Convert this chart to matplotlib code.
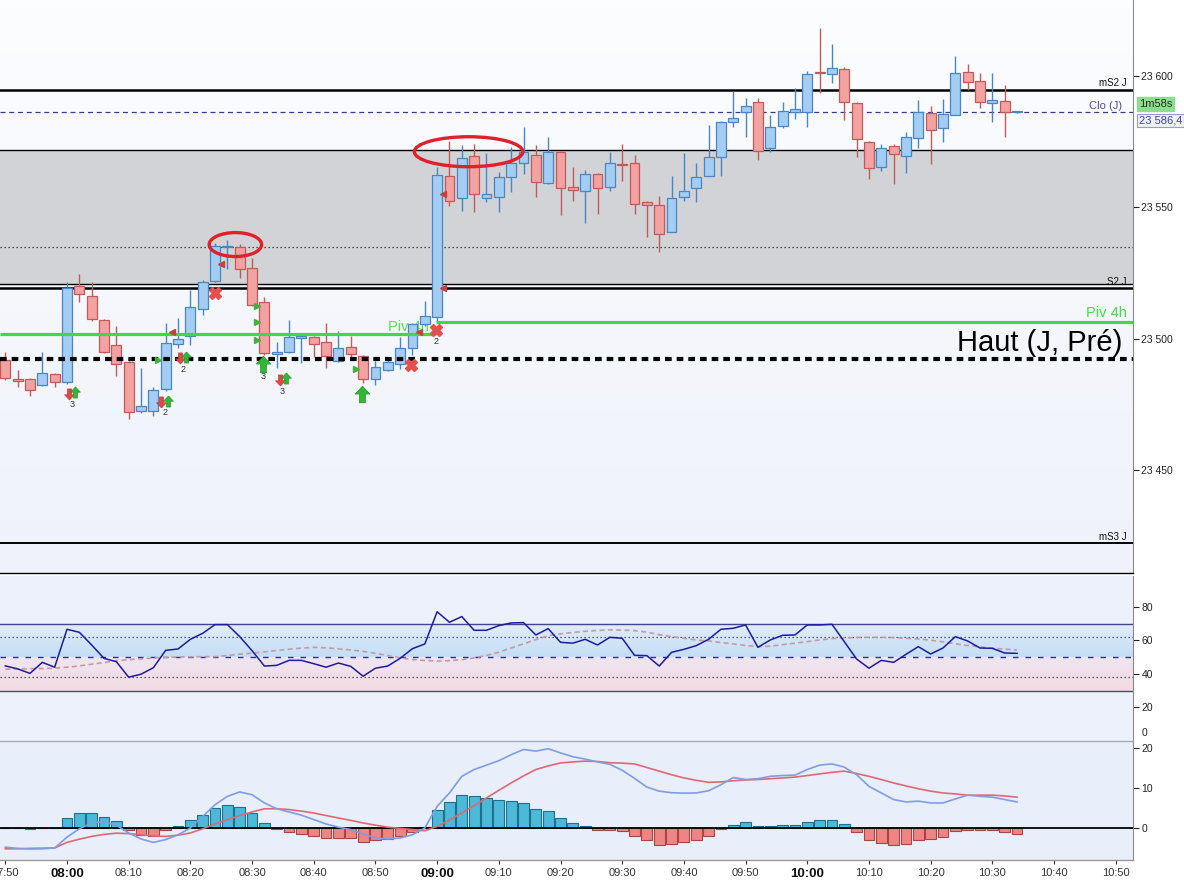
import numpy as np
import matplotlib
matplotlib.use('Agg')
import matplotlib.pyplot as plt
from matplotlib.patches import Ellipse
from matplotlib.path import Path
import matplotlib.transforms as mtrans
from matplotlib.colors import LinearSegmentedColormap

plt.rcParams['font.family'] = ['Liberation Sans', 'DejaVu Sans']

# ---------------- data ----------------
start_minute = 470          # 07:50
bar_minutes = 2

opens = [23492.0, 23484.8, 23484.7, 23482.4, 23486.6, 23483.5, 23520.2, 23516.3, 23507.2, 23497.6,
         23491.1, 23472.5, 23472.7, 23480.9, 23498.1, 23501.1, 23511.3, 23522.2, 23535.0, 23535.1,
         23526.9, 23514.2, 23494.3, 23495.2, 23500.5, 23500.6, 23498.7, 23491.6, 23496.9, 23493.7,
         23484.8, 23488.2, 23490.4, 23496.5, 23505.6, 23508.5, 23562.0, 23553.5, 23569.6, 23553.5,
         23553.9, 23561.5, 23566.8, 23570.0, 23559.2, 23571.2, 23557.9, 23556.4, 23562.6, 23557.7,
         23566.6, 23566.8, 23552.0, 23550.8, 23540.6, 23553.9, 23557.3, 23562.1, 23569.3, 23582.4,
         23586.2, 23590.0, 23572.5, 23580.9, 23586.3, 23586.4, 23601.4, 23600.8, 23602.5, 23589.6,
         23575.0, 23565.3, 23573.4, 23569.6, 23576.5, 23585.8, 23580.1, 23585.2, 23601.4, 23598.0,
         23589.6, 23590.5, 23586.2]
highs = [23495.2, 23488.2, 23485.0, 23495.2, 23487.0, 23521.6, 23524.7, 23521.8, 23507.5, 23504.9,
         23491.5, 23488.9, 23481.6, 23506.2, 23507.9, 23518.6, 23522.5, 23536.4, 23537.6, 23536.0,
         23530.9, 23516.1, 23499.0, 23507.2, 23501.5, 23501.0, 23506.0, 23503.0, 23501.1, 23494.0,
         23491.6, 23493.3, 23500.9, 23506.0, 23514.4, 23565.5, 23575.4, 23573.8, 23574.1, 23570.6,
         23563.6, 23573.1, 23580.7, 23573.8, 23576.7, 23571.5, 23565.5, 23564.3, 23563.0, 23571.0,
         23574.0, 23570.0, 23552.6, 23554.4, 23562.0, 23570.6, 23567.0, 23581.4, 23583.0, 23594.4,
         23591.7, 23591.5, 23585.2, 23590.2, 23595.3, 23602.0, 23618.1, 23612.2, 23603.5, 23590.0,
         23575.3, 23574.1, 23574.1, 23578.8, 23590.9, 23588.6, 23591.3, 23607.6, 23604.6, 23601.0,
         23601.0, 23596.6, 23586.6]
lows = [23484.5, 23481.6, 23478.4, 23482.0, 23481.9, 23483.0, 23514.2, 23507.0, 23494.8, 23486.0,
        23469.6, 23472.0, 23470.8, 23480.3, 23496.5, 23497.7, 23509.1, 23521.6, 23526.5, 23523.3,
        23512.5, 23494.0, 23488.9, 23494.8, 23491.0, 23493.3, 23488.9, 23491.2, 23493.0, 23483.2,
        23482.5, 23488.0, 23488.5, 23493.9, 23505.0, 23506.6, 23550.6, 23548.8, 23548.4, 23552.2,
        23548.4, 23556.0, 23562.7, 23553.9, 23558.8, 23547.1, 23552.5, 23544.2, 23547.5, 23556.4,
        23560.2, 23547.4, 23538.7, 23533.2, 23540.5, 23552.6, 23552.2, 23562.0, 23562.1, 23580.5,
        23576.9, 23568.1, 23571.0, 23580.1, 23583.7, 23580.5, 23593.7, 23597.2, 23583.3, 23569.3,
        23560.7, 23564.0, 23558.8, 23563.0, 23572.7, 23566.4, 23575.0, 23585.0, 23594.7, 23588.0,
        23582.4, 23576.9, 23586.0]
closes = [23485.1, 23484.0, 23480.6, 23486.9, 23483.5, 23519.3, 23517.1, 23507.5, 23495.1, 23490.4,
          23472.1, 23474.5, 23480.5, 23498.4, 23500.1, 23512.0, 23521.8, 23535.4, 23535.5, 23526.5,
          23512.9, 23494.6, 23495.2, 23500.6, 23501.0, 23498.0, 23493.5, 23496.5, 23494.2, 23484.7,
          23489.5, 23491.1, 23496.7, 23505.6, 23508.7, 23562.4, 23552.4, 23568.7, 23555.0, 23555.1,
          23561.5, 23566.8, 23571.0, 23559.8, 23571.0, 23557.3, 23556.7, 23562.7, 23557.3, 23566.8,
          23566.2, 23551.2, 23550.8, 23539.9, 23553.5, 23556.4, 23561.7, 23569.1, 23582.4, 23583.9,
          23588.5, 23571.5, 23580.5, 23586.6, 23587.5, 23600.8, 23601.0, 23602.9, 23590.0, 23575.9,
          23564.9, 23572.7, 23570.3, 23576.7, 23586.4, 23579.5, 23585.4, 23601.0, 23597.6, 23590.0,
          23590.8, 23586.2, 23586.4]

rsi = [44.8, 43.0, 40.3, 46.9, 44.0, 66.7, 64.9, 57.3, 49.3, 47.3,
       38.0, 39.8, 43.7, 54.1, 54.9, 60.7, 64.3, 69.5, 69.5, 62.3,
       53.9, 44.7, 45.1, 48.1, 48.1, 46.1, 44.0, 46.5, 44.5, 38.6,
       43.4, 44.7, 49.3, 55.1, 57.9, 77.2, 70.9, 74.3, 66.1, 66.1,
       68.9, 70.5, 70.7, 63.3, 67.1, 58.9, 58.4, 60.7, 57.3, 61.9,
       61.3, 51.1, 50.9, 44.7, 52.9, 54.7, 56.9, 60.7, 66.7, 67.3,
       69.3, 55.9, 60.3, 63.1, 63.3, 69.3, 69.3, 69.7, 59.3, 48.9,
       43.4, 48.1, 46.9, 51.7, 56.3, 51.9, 55.5, 62.3, 59.7, 55.5,
       55.3, 52.5, 52.3]
rsi_signal = [42.8, 43.0, 43.1, 43.2, 43.4, 44.0, 44.8, 45.8, 46.8, 47.8,
              48.5, 49.0, 49.5, 49.9, 50.1, 50.2, 50.3, 50.3, 51.0, 51.8,
              52.4, 53.2, 54.0, 54.8, 55.4, 55.9, 55.6, 55.0, 54.3, 53.5,
              52.3, 51.0, 49.6, 48.6, 48.0, 47.7, 47.9, 48.5, 49.6, 51.0,
              53.0, 55.5, 58.0, 60.5, 62.8, 64.0, 64.8, 65.5, 66.0, 66.3,
              66.2, 65.9, 65.0, 63.5, 62.3, 61.3, 60.3, 59.7, 58.8, 57.9,
              57.0, 56.3, 56.6, 57.5, 58.4, 59.3, 60.3, 61.1, 61.5, 61.8,
              61.9, 61.9, 61.7, 61.3, 60.9, 60.2, 59.2, 58.0, 57.0, 56.2,
              55.4, 54.8, 54.3]
rsi_bounds = [30, 70]
rsi_dotted = [38, 62]
rsi_mid = 50

macd = [-4.8, -5.1, -5.25, -5.2, -5.0, -2.3, -0.2, 1.25, 1.7, 0.7,
        -1.25, -2.75, -3.6, -2.9, -1.7, 0.0, 2.9, 5.8, 7.9, 9.0,
        8.3, 6.25, 4.8, 4.0, 3.2, 2.1, 1.0, 0.2, -0.4, -1.5,
        -2.5, -2.75, -2.5, -1.7, 0.0, 5.4, 8.75, 12.9, 14.6, 15.7,
        16.8, 18.3, 19.6, 19.2, 19.8, 18.75, 17.8, 17.2, 16.5, 15.9,
        14.4, 12.4, 10.2, 9.2, 8.8, 8.7, 8.75, 9.3, 10.8, 12.6,
        12.1, 12.3, 12.9, 13.1, 13.2, 14.6, 15.7, 16.0, 15.2, 13.3,
        10.4, 8.75, 7.1, 6.5, 6.7, 6.25, 6.25, 7.25, 8.2, 7.9,
        7.7, 7.1, 6.5]
macd_signal = [-5.2, -5.2, -5.1, -5.05, -5.0, -3.6, -2.8, -2.1, -1.6, -1.3,
               -1.4, -1.7, -2.0, -2.1, -1.8, -1.25, -0.2, 1.0, 2.1, 3.1,
               4.0, 4.8, 4.8, 4.6, 4.2, 3.75, 3.1, 2.5, 1.9, 1.25,
               0.7, 0.2, -0.1, -0.4, -0.7, 0.4, 2.0, 3.75, 5.6, 7.5,
               9.4, 11.25, 13.0, 14.6, 15.5, 16.25, 16.5, 16.7, 16.6, 16.3,
               16.2, 16.0, 15.1, 14.2, 13.3, 12.5, 11.9, 11.4, 11.5, 11.8,
               12.0, 12.1, 12.3, 12.5, 12.7, 13.1, 13.5, 13.9, 14.2, 13.6,
               12.9, 12.1, 11.25, 10.5, 9.8, 9.2, 8.75, 8.5, 8.2, 8.2,
               8.2, 8.0, 7.7]
macd_hist = [0.0, 0.0, -0.3, 0.0, 0.0, 2.5, 3.7, 3.7, 2.7, 1.7,
             -0.6, -1.7, -2.0, -0.4, 0.4, 1.9, 3.2, 4.9, 5.7, 5.2,
             3.7, 1.2, -0.3, -1.1, -1.6, -2.1, -2.6, -2.6, -2.6, -3.4,
             -3.1, -2.75, -2.1, -0.9, 0.25, 4.5, 6.5, 8.2, 7.9, 7.4,
             7.0, 6.75, 6.2, 4.75, 4.25, 2.5, 1.25, 0.4, -0.6, -0.6,
             -0.8, -2.1, -3.1, -4.3, -4.1, -3.6, -3.1, -2.1, -0.3, 0.7,
             1.4, 0.4, 0.4, 0.7, 0.7, 1.4, 1.9, 1.9, 0.9, -1.1,
             -3.1, -3.8, -4.3, -4.1, -3.1, -2.8, -2.3, -0.8, -0.4, -0.4,
             -0.6, -1.1, -1.4]

# price levels
mS2_J = 23594.7
clo_J = 23586.4
zone_top = 23571.9
zone_mid = 23535.0
S2_J = 23520.9
S2_J_second = 23519.4
piv4h_before = 23502.0
piv4h = 23506.5
piv4h_change_minute = 539.8
haut_J_pre = 23492.4
mS3_J = 23422.4
price_ticks = [23450, 23500, 23550, 23600]
clo_label = "23 586,4"
countdown_label = "1m58s"

# highlight ellipses: (centre minute, centre price, width min, height pts)
ellipses = [(507.3, 23535.9, 8.5, 9.1), (545.1, 23571.2, 17.6, 11.4)]

# signal markers (minute, price)
arrows_down = [(480.3, 23479.1), (495.2, 23476.0), (498.3, 23492.8), (514.5, 23484.4)]
arrows_up_small = [(481.3, 23479.8), (496.4, 23476.4), (499.3, 23493.1), (515.5, 23485.2)]
arrows_up_big = [(511.8, 23490.5), (527.8, 23479.1)]
crosses = [(504.0, 23517.5), (535.8, 23490.1), (539.8, 23503.4)]
counts = [("3", 480.8, 23474.9), ("2", 495.9, 23471.9), ("2", 498.8, 23488.2),
          ("3", 511.8, 23485.6), ("3", 514.9, 23480.2), ("2", 539.8, 23498.9)]
tri_green = [(494.8, 23492.0), (510.8, 23512.7), (510.8, 23506.6), (510.8, 23499.5), (526.8, 23488.6)]
tri_red = [(497.0, 23502.8), (505.0, 23528.4), (537.1, 23502.8), (541.0, 23519.3), (540.9, 23555.1)]

time_ticks = list(range(470, 651, 10))

# ---------------- figure ----------------
W, H = 1184, 880
fig = plt.figure(figsize=(W / 100, H / 100), dpi=100, facecolor='white')


def rect(x0, y0, x1, y1):
    return [x0 / W, 1 - y1 / H, (x1 - x0) / W, (y1 - y0) / H]


ax_p = fig.add_axes(rect(0, 0, 1133, 573))
ax_r = fig.add_axes(rect(0, 576, 1133, 740.7), sharex=ax_p)
ax_m = fig.add_axes(rect(0, 740.7, 1133, 860), sharex=ax_p)

xmin, xmax = 469.14, 652.8
n = len(opens)
t = start_minute + bar_minutes * np.arange(n)
o = np.array(opens); h = np.array(highs); l = np.array(lows); c = np.array(closes)

# --- price panel ---
ax = ax_p
bg = LinearSegmentedColormap.from_list('bg', ['#eff2fa', '#fcfdff'])
ax.imshow(np.linspace(0, 1, 64).reshape(-1, 1), extent=[0, 1, 0, 1], transform=ax.transAxes,
          cmap=bg, origin='lower', aspect='auto', zorder=0)
ax.axhspan(S2_J, zone_top, color='#d2d3d6', zorder=1, lw=0)
ax.axhline(zone_top, color='black', lw=1.0, zorder=2)
ax.axhline(zone_mid, color='#222222', lw=0.9, ls=(0, (1, 2.2)), zorder=2)
ax.axhline(S2_J, color='black', lw=1.0, zorder=2)
ax.axhline(S2_J_second, color='black', lw=1.8, zorder=2)
ax.axhline(mS2_J, color='black', lw=1.8, zorder=2)
ax.axhline(clo_J, color='#3a3a8a', lw=0.9, ls=(0, (4, 3)), zorder=2)
ax.axhline(mS3_J, color='black', lw=1.4, zorder=2)

# left "Piv 4h" label (mostly hidden behind candles)
ax.text(532.0, piv4h_before, 'Piv 4h', color='#55dd55', fontsize=10.5, ha='left',
        va='bottom', zorder=2.5)

up = c >= o
edge = np.where(up, '#4a86c3', '#c25a5a')
face = np.where(up, '#a3cdf3', '#f3a2a2')
ax.vlines(t, l, h, colors=edge, lw=1.0, zorder=3)
body_lo = np.minimum(o, c)
body_h = np.maximum(np.abs(c - o), 0.4)
ax.bar(t, body_h, bottom=body_lo, width=1.6, color=face, edgecolor=edge, lw=0.9, zorder=4)

# pivot & dashed high lines on top of candles
ax.hlines(piv4h_before, xmin, piv4h_change_minute, color='#3ddc3d', lw=2.3, zorder=5)
ax.hlines(piv4h, piv4h_change_minute, xmax, color='#3ddc3d', lw=2.3, zorder=5)
ax.axhline(haut_J_pre, color='black', lw=3.0, dashes=(1.6, 1.2), zorder=5)

# markers
up_arrow = Path([(0, 1), (-0.9, 0.05), (-0.38, 0.05), (-0.38, -1), (0.38, -1), (0.38, 0.05),
                 (0.9, 0.05), (0, 1)])
down_arrow = Path([(0, -1), (-0.9, -0.05), (-0.38, -0.05), (-0.38, 1), (0.38, 1), (0.38, -0.05),
                   (0.9, -0.05), (0, -1)])
for x, y in arrows_down:
    ax.plot(x, y, marker=down_arrow, ms=8, color='#e04848', mec='#c03030', mew=0.4, zorder=6)
for x, y in arrows_up_small:
    ax.plot(x, y, marker=up_arrow, ms=8, color='#33b633', mec='#208a20', mew=0.4, zorder=6)
for x, y in arrows_up_big:
    ax.plot(x, y, marker=up_arrow, ms=12, color='#33b633', mec='#208a20', mew=0.4, zorder=6)
for x, y in crosses:
    ax.plot(x, y, marker='X', ms=8, color='#e25050', mec='#e25050', zorder=6)
for txt, x, y in counts:
    ax.text(x, y, txt, fontsize=6.5, color='#333333', ha='center', va='center', zorder=6)
for x, y in tri_green:
    ax.plot(x, y, marker='>', ms=4, color='#3cb43c', zorder=6)
for x, y in tri_red:
    ax.plot(x, y, marker='<', ms=4, color='#c84040', zorder=6)

for (cx, cy, ew, eh) in ellipses:
    ax.add_patch(Ellipse((cx, cy), ew, eh, fill=False, edgecolor='#e0202a', lw=2.4, zorder=7))

# right-side level labels
bt = mtrans.blended_transform_factory(ax.transAxes, ax.transData)


def level_label(text, level, xfrac, dy, **kw):
    ax.annotate(text, xy=(xfrac, level), xycoords=bt, xytext=(0, dy), textcoords='offset points',
                ha='right', va='center', zorder=8, **kw)


level_label('mS2 J', mS2_J, 0.9947, 4.8, fontsize=7, color='#111111')
level_label('Clo (J)', clo_J, 0.9903, 4.5, fontsize=8, color='#4a4aa0')
level_label('S2 J', S2_J, 0.9947, 1.7, fontsize=7, color='#111111')
level_label('Piv 4h', piv4h, 0.9947, 6.7, fontsize=10.5, color='#44dd44')
level_label('Haut (J, Pré)', haut_J_pre, 0.9903, 11.5, fontsize=21, color='black')
level_label('mS3 J', mS3_J, 0.9947, 4.3, fontsize=7, color='#111111')

ax.set_xlim(xmin, xmax)
ax.set_ylim(23411.0, 23628.9)
ax.yaxis.tick_right()
ax.set_yticks(price_ticks)
ax.set_yticklabels([f"{v:,}".replace(',', ' ') for v in price_ticks])
ax.tick_params(axis='y', direction='out', length=4, width=0.8, pad=2, labelsize=7.5,
               colors='#222222')
ax.tick_params(axis='x', bottom=False, labelbottom=False)
for s in ['top', 'left']:
    ax.spines[s].set_visible(False)
ax.spines['right'].set_color('#8a8a8a'); ax.spines['right'].set_linewidth(0.8)
ax.spines['bottom'].set_color('black'); ax.spines['bottom'].set_linewidth(1.0)

# boxes on the axis
fig.text(1139 / W, 1 - 104 / H, countdown_label, fontsize=8, color='#1c3a1c', ha='left', va='center',
         bbox=dict(boxstyle='square,pad=0.18', fc='#8edc8e', ec='#8edc8e'))
fig.text(1139 / W, 1 - 120.5 / H, clo_label, fontsize=8, color='#4040b0', ha='left', va='center',
         bbox=dict(boxstyle='square,pad=0.15', fc='#eef0fb', ec='#9a9ad6', lw=0.8))

# --- RSI panel ---
ax = ax_r
ax.set_facecolor('#edf1fb')
blue_band = LinearSegmentedColormap.from_list('bb', ['#c3def5', '#e4edf9'])
pink_band = LinearSegmentedColormap.from_list('pb', ['#f4dae2', '#efe6f0'])
ax.imshow(np.linspace(0, 1, 64).reshape(-1, 1), extent=[xmin, xmax, rsi_mid, rsi_bounds[1]],
          cmap=blue_band, origin='lower', aspect='auto', zorder=0.5)
ax.imshow(np.linspace(0, 1, 64).reshape(-1, 1), extent=[xmin, xmax, rsi_bounds[0], rsi_mid],
          cmap=pink_band, origin='lower', aspect='auto', zorder=0.5)
for v in rsi_bounds:
    ax.axhline(v, color='#45458f', lw=1.0, zorder=2)
for v in rsi_dotted:
    ax.axhline(v, color='#303050', lw=0.9, ls=(0, (1, 2.2)), zorder=2)
ax.axhline(rsi_mid, color='#303090', lw=1.0, ls=(0, (4, 5)), zorder=2)
ax.plot(t, rsi_signal, color='#c49aa4', lw=1.2, ls=(0, (3, 2)), zorder=3)
ax.plot(t, rsi, color='#1c1c9c', lw=1.1, zorder=4)
ax.set_xlim(xmin, xmax)
ax.set_ylim(0, 98.6)
ax.yaxis.tick_right()
ax.set_yticks([20, 40, 60, 80])
ax.tick_params(axis='y', direction='out', length=4, width=0.8, pad=2, labelsize=7.5, colors='#222222')
ax.tick_params(axis='x', bottom=False, labelbottom=False)
btr = mtrans.blended_transform_factory(ax.transAxes, ax.transData)
ax.annotate('0', xy=(1, 0), xycoords=btr, xytext=(6.5, 5.2), textcoords='offset points',
            ha='left', va='center', fontsize=7.5, color='#222222', annotation_clip=False)
for s in ['top', 'left', 'bottom']:
    ax.spines[s].set_visible(False)
ax.spines['right'].set_color('#8a8a8a'); ax.spines['right'].set_linewidth(0.8)

# --- MACD panel ---
ax = ax_m
ax.set_facecolor('#e8eefa')
hist = np.array(macd_hist)
hcol = np.where(hist >= 0, '#4db9d9', '#f08484')
hedge = np.where(hist >= 0, '#1f6f8d', '#a84646')
ax.bar(t, hist, width=1.75, color=hcol, edgecolor=hedge, lw=0.8, zorder=3)
ax.axhline(0, color='black', lw=1.3, zorder=4)
ax.plot(t, macd_signal, color='#e06874', lw=1.2, zorder=5)
ax.plot(t, macd, color='#7f9ee0', lw=1.2, zorder=6)
ax.set_xlim(xmin, xmax)
ax.set_ylim(-8, 21.8)
ax.yaxis.tick_right()
ax.set_yticks([0, 10, 20])
ax.tick_params(axis='y', direction='out', length=4, width=0.8, pad=2, labelsize=7.5, colors='#222222')
labels = [f"{m // 60:02d}:{m % 60:02d}" for m in time_ticks]
ax.set_xticks(time_ticks)
ax.set_xticklabels(labels)
ax.tick_params(axis='x', direction='out', length=3, width=0.8, pad=3, labelsize=8, colors='#333333')
for lbl in ax.get_xticklabels():
    if lbl.get_text().endswith(':00'):
        lbl.set_fontweight('bold')
        lbl.set_fontsize(9.5)
        lbl.set_color('#111111')
ax.spines['left'].set_visible(False)
ax.spines['top'].set_color('#a3abbb'); ax.spines['top'].set_linewidth(1.0)
ax.spines['bottom'].set_color('#9a9a9a'); ax.spines['bottom'].set_linewidth(1.0)
ax.spines['right'].set_color('#8a8a8a'); ax.spines['right'].set_linewidth(0.8)

fig.savefig('out.png', dpi=100, facecolor='white')
